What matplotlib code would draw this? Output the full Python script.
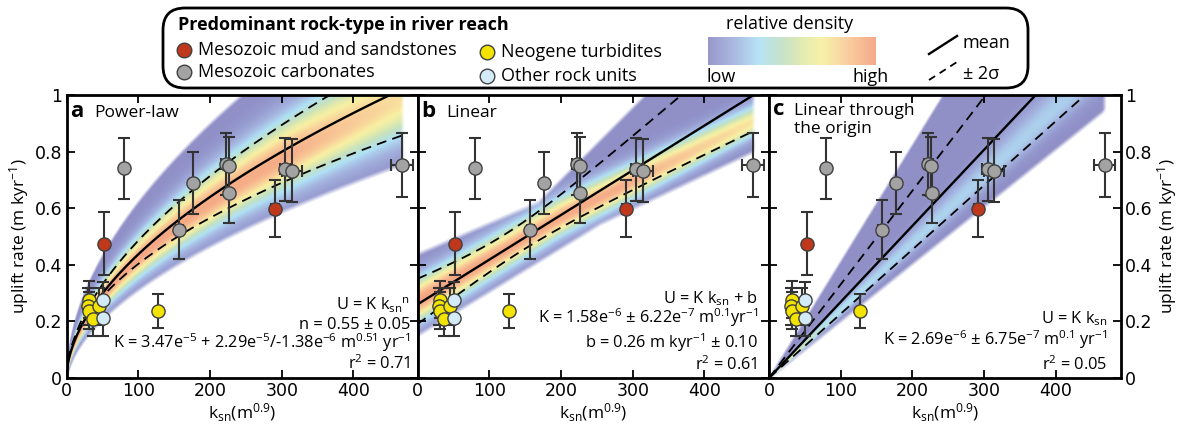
import numpy as np
import matplotlib
matplotlib.use("Agg")
import matplotlib.pyplot as plt
from matplotlib.colors import LinearSegmentedColormap
from matplotlib.patches import FancyBboxPatch
from matplotlib.lines import Line2D

plt.rcParams['font.family'] = ['Open Sans', 'DejaVu Sans']
plt.rcParams['mathtext.fontset'] = 'custom'
plt.rcParams['mathtext.rm'] = 'Open Sans'
plt.rcParams['mathtext.it'] = 'Open Sans:italic'
plt.rcParams['mathtext.bf'] = 'Open Sans:bold'

# ---------------- data ----------------
gray_x = [80, 177, 157, 222, 226, 227, 305, 314, 468]
gray_y = [0.741, 0.688, 0.524, 0.757, 0.748, 0.653, 0.738, 0.732, 0.751]
gray_xerr = [0, 0, 5, 6, 0, 0, 8, 14, 15]
gray_yerr = [0.107, 0.110, 0.105, 0.110, 0.105, 0.106, 0.111, 0.111, 0.113]

red_x = [52.6, 290.7]
red_y = [0.475, 0.598]
red_xerr = [0, 5]
red_yerr = [0.112, 0.101]

yel_x = [127, 31.6, 30.2, 31.6, 37.2, 45.6]
yel_y = [0.238, 0.276, 0.253, 0.238, 0.209, 0.253]
yel_xerr = [0, 0, 0, 0, 0, 0]
yel_yerr = [0.060, 0.065, 0.065, 0.065, 0.062, 0.065]

blu_x = [50.5, 50.5]
blu_y = [0.274, 0.212]
blu_xerr = [0, 0]
blu_yerr = [0.065, 0.065]

# fitted models (values from the annotations, converted to m/kyr)
Ka, na = 0.0347, 0.55           # power law
Ka_up, na_up = 0.0375, 0.556    # +2 sigma
Ka_lo, na_lo = 0.0424, 0.489    # -2 sigma
Kb, bb = 0.00158, 0.26          # linear
Kc, Kc_up, Kc_lo = 0.00269, 0.00331, 0.00227  # through origin

xticks = [0, 100, 200, 300, 400]
xtick_labels = ['0', '100', '200', '300', '400']
yticks = [0, 0.2, 0.4, 0.6, 0.8, 1.0]
ytick_labels = ['0', '0.2', '0.4', '0.6', '0.8', '1']

annot_a = [r'U = K k$_{\mathrm{sn}}$$^{\mathrm{n}}$', 'n = 0.55 ± 0.05',
           r'K = 3.47e$^{-5}$ + 2.29e$^{-5}$/-1.38e$^{-6}$ m$^{0.51}$ yr$^{-1}$',
           r'r$^{2}$ = 0.71']
annot_b = [r'U = K k$_{\mathrm{sn}}$ + b',
           r'K = 1.58e$^{-6}$ ± 6.22e$^{-7}$ m$^{0.1}$yr$^{-1}$',
           r'b = 0.26 m kyr$^{-1}$ ± 0.10', r'r$^{2}$ = 0.61']
annot_c = [r'U = K k$_{\mathrm{sn}}$',
           r'K = 2.69e$^{-6}$ ± 6.75e$^{-7}$ m$^{0.1}$ yr$^{-1}$',
           r'r$^{2}$ = 0.05']

# ---------------- style ----------------
W, H = 1177, 426
fig = plt.figure(figsize=(W / 100, H / 100), dpi=100)

cmap = LinearSegmentedColormap.from_list('dens', [
    (0.0, '#8c8cc6'), (0.15, '#a1b0de'), (0.3, '#aee0f5'), (0.45, '#c2e0c0'),
    (0.58, '#e4eba8'), (0.68, '#f8f0a0'), (0.84, '#f9c794'), (1.0, '#f4a07e')])

XMAX = 490
XEND = 470
ax_bottom, ax_top = 378, 95
lefts = [66.5, 417.5, 769]
width = 351.5
NARROW = ['Liberation Sans Narrow', 'DejaVu Sans']


def px_axes(l, w):
    return [l / W, 1 - ax_bottom / H, w / W, (ax_bottom - ax_top) / H]


def density(ax, center, su, sl, up, lo, amp):
    x = np.linspace(0, XEND, 600)
    y = np.linspace(0, 1, 600)
    X, Y = np.meshgrid(x, y)
    C, SU, SL, UP, LO, A = [f(X) for f in (center, su, sl, up, lo, amp)]
    Z = np.where(Y > C, (Y - C) / SU, (Y - C) / SL)
    T = A * np.exp(-0.5 * Z ** 2)
    rgba = cmap(np.clip(T, 0, 1))
    soft = 0.018
    alpha = np.clip((UP - Y) / soft, 0, 1) * np.clip((Y - LO) / soft, 0, 1)
    alpha *= np.clip((XEND - X) / 6.0, 0, 1)
    rgba[..., 3] = alpha * 0.97
    ax.imshow(rgba, extent=[0, XEND, 0, 1], origin='lower', aspect='auto',
              interpolation='bilinear', zorder=1)


def points(ax):
    groups = [(gray_x, gray_y, gray_xerr, gray_yerr, '#a3a3a3'),
              (red_x, red_y, red_xerr, red_yerr, '#c0381c'),
              (yel_x, yel_y, yel_xerr, yel_yerr, '#f2e400'),
              (blu_x, blu_y, blu_xerr, blu_yerr, '#d3ebf8')]
    for gx, gy, gxe, gye, col in groups:
        ax.errorbar(gx, gy, xerr=gxe, yerr=gye, fmt='none', ecolor='#333333',
                    elinewidth=1.5, capsize=4, capthick=1.5, zorder=3)
    for gx, gy, gxe, gye, col in groups:
        ax.plot(gx, gy, 'o', ms=9.5, mfc=col, mec='#404040', mew=1.0, zorder=4,
                ls='none')


def style(ax):
    ax.set_xlim(0, XMAX)
    ax.set_ylim(0, 1)
    ax.set_xticks(xticks)
    ax.set_xticklabels(xtick_labels, family=NARROW, fontsize=12.5)
    ax.set_yticks(yticks)
    ax.tick_params(direction='in', length=6, width=1.3, top=True, right=True,
                   left=True, bottom=True, pad=3)
    for s in ax.spines.values():
        s.set_linewidth(2)
    ax.set_xlabel(r'k$_{\mathrm{sn}}$(m$^{0.9}$)', fontsize=12.5, labelpad=1)


axes = [fig.add_axes(px_axes(l, width)) for l in lefts]
for ax in axes:
    style(ax)

xs = np.linspace(0.01, XEND, 800)
dash = (0, (5.5, 3.5))

# --- panel a
ax = axes[0]
density(ax, lambda x: 0.97 * Ka * x ** na,
        lambda x: 0.11 * Ka * x ** na + 0.006,
        lambda x: 0.09 * Ka * x ** na + 0.006,
        lambda x: 1.36 * Ka * x ** na + 0.04,
        lambda x: 0.76 * Ka * x ** na - 0.03,
        lambda x: np.interp(x, [0, 300, 470], [1.0, 0.95, 0.74]))
ax.plot(xs, Ka * xs ** na, color='k', lw=1.7, zorder=2)
ax.plot(xs, Ka_up * xs ** na_up, color='k', lw=1.3, ls=dash, zorder=2)
ax.plot(xs, Ka_lo * xs ** na_lo, color='k', lw=1.3, ls=dash, zorder=2)

# --- panel b
ax = axes[1]
density(ax, lambda x: np.interp(x, [0, 200, 470], [0.27, 0.57, 0.91]),
        lambda x: np.interp(x, [0, 470], [0.055, 0.04]),
        lambda x: np.interp(x, [0, 470], [0.05, 0.035]),
        lambda x: np.interp(x, [0, 167, 470], [0.447, 0.629, 1.40]),
        lambda x: np.interp(x, [0, 254, 470], [0.141, 0.535, 0.794]),
        lambda x: np.interp(x, [0, 280, 470], [1.0, 0.95, 0.72]))
mb = Kb * xs + bb
ax.plot(xs, mb, color='k', lw=1.7, zorder=2)
ax.plot(xs, mb + np.sqrt(0.055 ** 2 + (0.0006 * (xs - 120)) ** 2), color='k',
        lw=1.3, ls=dash, zorder=2)
ax.plot(xs, mb - np.sqrt(0.04 ** 2 + (0.00038 * (xs - 150)) ** 2), color='k',
        lw=1.3, ls=dash, zorder=2)

# --- panel c
ax = axes[2]
density(ax, lambda x: 0.00238 * x,
        lambda x: 0.00016 * x + 0.004,
        lambda x: 0.0001 * x + 0.004,
        lambda x: 0.00413 * x + 0.01,
        lambda x: 0.00203 * x - 0.012,
        lambda x: np.interp(x, [0, 30, 80, 150, 470], [0.75, 0.55, 0.36, 0.27, 0.24]))
ax.plot(xs, Kc * xs, color='k', lw=1.7, zorder=2)
ax.plot(xs, Kc_up * xs, color='k', lw=1.3, ls=dash, zorder=2)
ax.plot(xs, Kc_lo * xs, color='k', lw=1.3, ls=dash, zorder=2)

for ax in axes:
    points(ax)

# tick labels on y
axes[0].set_yticklabels(ytick_labels, family=NARROW, fontsize=12.5)
axes[0].set_ylabel(r'uplift rate (m kyr$^{-1}$)', fontsize=12.5, labelpad=3)
axes[1].set_yticklabels([])
axes[2].tick_params(labelleft=False, labelright=True)
axes[2].set_yticklabels(ytick_labels, family=NARROW, fontsize=12.5)
axes[2].yaxis.set_label_position('right')
axes[2].set_ylabel(r'uplift rate (m kyr$^{-1}$)', fontsize=12.5, labelpad=2, rotation=90)


def title(ax, letter, lines, xl_px, xt_px, left_px, ys):
    ax.text((xl_px - left_px) / 0.7178, ys[0], letter, fontsize=16, fontweight='bold',
            va='baseline', ha='left', zorder=6)
    for t, yy in zip(lines, ys):
        ax.text((xt_px - left_px) / 0.7178, yy, t, fontsize=12.5, va='baseline',
                ha='left', zorder=6)


title(axes[0], 'a', ['Power-law'], 70, 94, 66.5, [0.922])
title(axes[1], 'b', ['Linear'], 421, 446, 417.5, [0.922])
title(axes[2], 'c', ['Linear through', 'the origin'], 773, 794, 769, [0.929, 0.866])


def annot(ax, lines, xr, ys):
    for t, yy in zip(lines, ys):
        ax.text(xr, yy, t, transform=ax.get_yaxis_transform(), fontsize=11.8,
                ha='right', va='baseline', zorder=6)


annot(axes[0], annot_a, 0.978, [0.240, 0.172, 0.105, 0.031])
annot(axes[1], annot_b, 0.968, [0.264, 0.193, 0.105, 0.028])
annot(axes[2], annot_c, 0.962, [0.193, 0.117, 0.028])

# ---------------- legend overlay ----------------
ov = fig.add_axes([0, 0, 1, 1], zorder=10)
ov.axis('off')
ov.patch.set_alpha(0)
ov.add_patch(FancyBboxPatch((163, 8), 865, 80, boxstyle='round,pad=0,rounding_size=22',
                            fc='white', ec='black', lw=2, zorder=1))
ov.text(178, 25, 'Predominant rock-type in river reach', fontsize=13,
        fontweight='bold', va='center', ha='left', zorder=3)
leg_items = [(184, 50, '#c0381c', 'Mesozoic mud and sandstones'),
             (184, 72, '#a3a3a3', 'Mesozoic carbonates'),
             (487, 52, '#f2e400', 'Neogene turbidites'),
             (487, 76, '#d3ebf8', 'Other rock units')]
for lx, ly, col, lab in leg_items:
    ov.plot([lx], [ly], 'o', ms=10.5, mfc=col, mec='#404040', mew=1.0, zorder=3)
    ov.text(lx + 14, ly, lab, fontsize=13, va='center', ha='left', zorder=3)
ov.text(790, 24, 'relative density', fontsize=13, va='center', ha='center', zorder=3)
grad = np.linspace(0, 1, 256).reshape(1, -1)
ov.imshow(grad, cmap=cmap, extent=(708, 876, 65, 37), aspect='auto', alpha=0.9,
          zorder=3)
ov.text(706, 77, 'low', fontsize=13, va='center', ha='left', zorder=3)
ov.text(889, 77, 'high', fontsize=13, va='center', ha='right', zorder=3)
ov.add_line(Line2D([929, 957], [54, 36], color='k', lw=1.7, zorder=3))
ov.add_line(Line2D([929, 957], [80, 62], color='k', lw=1.3, ls=(0, (4, 3)), zorder=3))
ov.text(962, 43, 'mean', fontsize=13, va='center', ha='left', zorder=3)
ov.text(963, 74, '± 2σ', fontsize=13, va='center', ha='left', zorder=3)
ov.set_xlim(0, W)
ov.set_ylim(H, 0)

fig.savefig('out.png', dpi=100)
